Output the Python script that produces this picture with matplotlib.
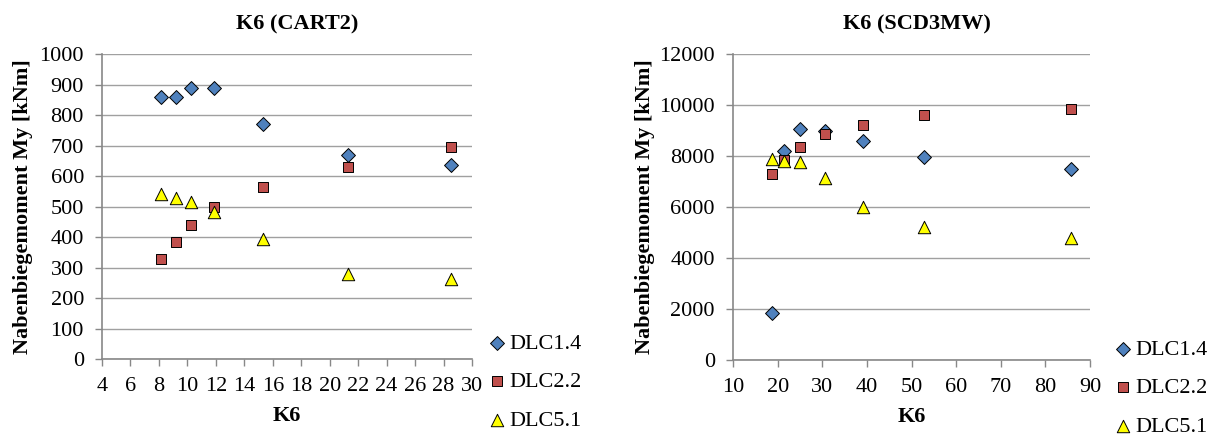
import matplotlib.pyplot as plt

plt.rcParams['font.family'] = ['Liberation Serif', 'DejaVu Serif']

# CART2
k6_cart2 = [8.17, 9.19, 10.29, 11.88, 15.29, 21.32, 28.52]
dlc14_cart2 = [860, 858, 887, 889, 772, 670, 636]
dlc22_cart2 = [327, 383, 438, 499, 563, 630, 696]
dlc51_cart2 = [540, 528, 515, 481, 394, 280, 261]

# SCD3MW
k6_scd = [18.7, 21.4, 25.0, 30.5, 39.2, 52.7, 85.7]
dlc14_scd = [1826, 8204, 9065, 9000, 8583, 7970, 7474]
dlc22_scd = [7278, 7826, 8361, 8870, 9235, 9626, 9848]
dlc51_scd = [7900, 7790, 7760, 7150, 5990, 5210, 4780]

series_names = ['DLC1.4', 'DLC2.2', 'DLC5.1']
markers = ['D', 's', '^']
colors = ['#4F81BD', '#C0504D', '#FFFF00']
sizes = [50, 50, 80]


def draw(ax, x, ys, title, title_x, xlim, xticks, ylim, yticks, ylabel_x, legend_anchor):
    for y, name, m, c, s in zip(ys, series_names, markers, colors, sizes):
        ax.scatter(x, y, marker=m, s=s, c=c, edgecolors='black', linewidths=0.7,
                   label=name, zorder=3)
    ax.set_xlim(*xlim)
    ax.set_ylim(*ylim)
    ax.set_xticks(xticks)
    ax.set_yticks(yticks)
    ax.yaxis.grid(True, color='#A0A0A0', linewidth=1.0)
    ax.set_axisbelow(True)
    for side in ['top', 'right']:
        ax.spines[side].set_visible(False)
    for side in ['left', 'bottom']:
        ax.spines[side].set_color('#888888')
        ax.spines[side].set_linewidth(1.2)
    ax.tick_params(axis='both', colors='#888888', labelcolor='black',
                   labelsize=16, length=5, width=1.0, direction='out')
    ax.tick_params(axis='y', pad=8)
    ax.tick_params(axis='x', pad=8)
    ax.set_title(title, fontsize=16, fontweight='bold', pad=18, x=title_x)
    ax.set_xlabel('K6', fontsize=16, fontweight='bold', labelpad=7)
    ax.set_ylabel('Nabenbiegemoment My [kNm]', fontsize=16, fontweight='bold')
    ax.yaxis.set_label_coords(ylabel_x, 0.5)
    ax.legend(loc='center left', bbox_to_anchor=legend_anchor,
              bbox_transform=ax.figure.transFigure, frameon=False,
              fontsize=16, handletextpad=0.05, labelspacing=0.8, borderpad=0,
              borderaxespad=0, handlelength=1.0)


fig = plt.figure(figsize=(12.14, 4.36), dpi=100)
ax1 = fig.add_axes([0.0840, 0.1766, 0.3048, 0.6995])
ax2 = fig.add_axes([0.6038, 0.1743, 0.2941, 0.7018])

draw(ax1, k6_cart2, [dlc14_cart2, dlc22_cart2, dlc51_cart2], 'K6 (CART2)', 0.527,
     (4, 30), range(4, 31, 2), (0, 1000), range(0, 1001, 100), -0.187, (0.400, 0.124))
draw(ax2, k6_scd, [dlc14_scd, dlc22_scd, dlc51_scd], 'K6 (SCD3MW)', 0.515,
     (10, 90), range(10, 91, 10), (0, 12000), range(0, 12001, 2000), -0.218, (0.916, 0.110))

fig.savefig('out.png', dpi=100)
